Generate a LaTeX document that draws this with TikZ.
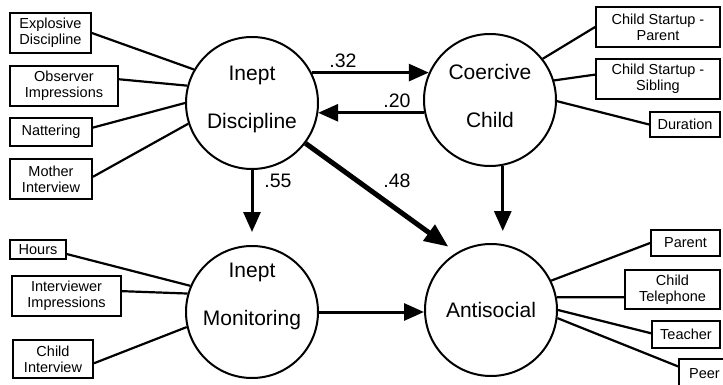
\documentclass[tikz,border=0pt]{standalone}
\usepackage{fontspec}
\setmainfont{Liberation Sans}
\usetikzlibrary{arrows.meta}
\tikzset{
	semnode/.style = {align=center, inner sep=0pt, text centered},
	sem_lat/.style = {semnode, circle, draw=black, line width=2pt,
		minimum size=132pt, font=\fontsize{21}{48}\selectfont},% latent construct
	sem_txt/.style = {semnode, font=\fontsize{21}{48}\selectfont},% construct name
	sem_ind/.style = {semnode, rectangle, draw=black, line width=1.8pt,
		font=\fontsize{14.5}{16}\selectfont},% indicator box
	sem_coef/.style = {semnode, font=\fontsize{19.5}{20}\selectfont},% path coefficient
	sem_load/.style = {line width=2.2pt},% loading line
	sem_path/.style = {->, line width=3pt}% structural path
}
\begin{document}
\begin{tikzpicture}[x=1pt, y=-1pt, >={Triangle[length=20pt,width=17pt]}]
	\useasboundingbox (0,0) rectangle (723,385);
	\clip (0,0) rectangle (723,385);
	% constructs
	\node[sem_lat] (disc) at (252,103) {};
	\node[sem_lat] (coer) at (490,100) {};
	\node[sem_lat] (moni) at (252,312) {};
	\node[sem_lat] (anti) at (491,310) {Antisocial};
	\node[sem_txt] (discT) at (252,99) {Inept\\Discipline};
	\node[sem_txt] (coerT) at (490,96) {Coercive\\Child};
	\node[sem_txt] (moniT) at (252,296) {Inept\\Monitoring};
	% indicators, left
	\node[sem_ind, minimum width=81pt, minimum height=40pt] (expl) at (50.5,33) {Explosive\\Discipline};
	\node[sem_ind, minimum width=108pt, minimum height=40pt] (obs) at (64,86) {Observer\\Impressions};
	\node[sem_ind, minimum width=82pt, minimum height=28pt] (natt) at (51,132) {Nattering};
	\node[sem_ind, minimum width=82pt, minimum height=40pt] (moth) at (51,179) {Mother\\Interview};
	\node[sem_ind, minimum width=56pt, minimum height=19pt] (hours) at (38,249.5) {Hours};
	\node[sem_ind, minimum width=109pt, minimum height=40pt] (intv) at (66.5,296) {Interviewer\\Impressions};
	\node[sem_ind, minimum width=80pt, minimum height=38pt] (chint) at (53,359) {Child\\Interview};
	% indicators, right
	\node[sem_ind, minimum width=124pt, minimum height=40pt] (csp) at (658,27) {Child Startup -\\Parent};
	\node[sem_ind, minimum width=124pt, minimum height=40pt] (css) at (658,79) {Child Startup -\\Sibling};
	\node[sem_ind, minimum width=70pt, minimum height=25pt] (dur) at (685,124.5) {Duration};
	\node[sem_ind, minimum width=69pt, minimum height=26pt] (par) at (685.5,243) {Parent};
	\node[sem_ind, minimum width=95pt, minimum height=39pt] (tel) at (672.5,289.5) {Child\\Telephone};
	\node[sem_ind, minimum width=68pt, minimum height=27pt] (teach) at (686,334.5) {Teacher};
	\node[sem_ind, minimum width=51pt, minimum height=30pt] (peer) at (704.5,374) {Peer};
	% loadings
	\draw[sem_load] (expl.east) -- (disc.150);
	\draw[sem_load] (obs.7) -- (disc.165);
	\draw[sem_load] (natt.6) -- (disc.180);
	\draw[sem_load] (moth.3) -- (disc.198);
	\draw[sem_load] (hours.351) -- (moni.157);
	\draw[sem_load] (intv.5) -- (moni.164);
	\draw[sem_load] (chint.354) -- (moni.193);
	\draw[sem_load] (csp.west) -- (coer.38);
	\draw[sem_load] (css.176) -- (coer.17);
	\draw[sem_load] (dur.west) -- (coer.359);
	\draw[sem_load] (par.west) -- (anti.26);
	\draw[sem_load] (tel.189) -- (anti.11);
	\draw[sem_load] (teach.178) -- (anti.0);
	\draw[sem_load] (peer.164) -- (anti.353);
	% paths
	\draw[sem_path] (disc.27) -- (disc.27 -| coer.156);
	\draw[sem_path] (coer.191) -- (coer.191 -| disc.351);
	\draw[sem_path, shorten >=13pt] (disc) -- (moni);
	\draw[sem_path, line width=5pt, >={Triangle[length=24pt,width=19pt]}, shorten >=10pt] (disc.323) -- (anti.121);
	\draw[sem_path, shorten >=12pt] (coer.281) -- (coer.281 |- anti.north);
	\draw[sem_path] (moni.east) -- (moni.east -| anti.west);
	\node[sem_coef] (c32) at (343,61) {.32};
	\node[sem_coef] (c20) at (397,101) {.20};
	\node[sem_coef] (c55) at (278,181) {.55};
	\node[sem_coef] (c48) at (397,181) {.48};
\end{tikzpicture}
\end{document}
